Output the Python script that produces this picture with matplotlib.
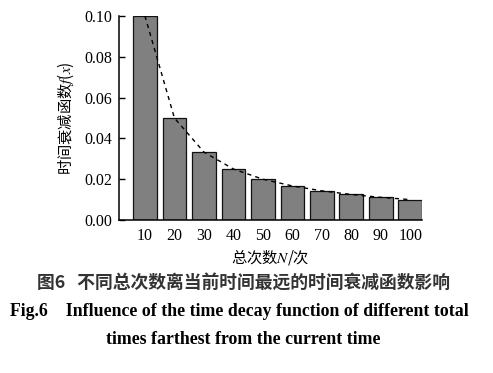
import matplotlib
matplotlib.use("Agg")
import matplotlib.pyplot as plt

# data
totals = [10, 20, 30, 40, 50, 60, 70, 80, 90, 100]
decay = [0.100, 0.050, 0.0333, 0.025, 0.020, 0.0167, 0.0143, 0.0125, 0.0111, 0.010]
yticks = [0.00, 0.02, 0.04, 0.06, 0.08, 0.10]

SERIF = ["Liberation Serif", "Noto Sans CJK SC"]
CJK = ["Noto Sans CJK SC", "Liberation Serif"]

plt.rcParams.update({
    "font.family": SERIF,
    "mathtext.fontset": "stix",
    "font.size": 10,
})

fig = plt.figure(figsize=(4.93, 3.73), dpi=100)
ax = fig.add_axes([0.2414, 0.4102, 0.6146, 0.5469])

ax.bar(totals, decay, width=8, color="#808080", edgecolor="#111111", linewidth=0.9)
ax.plot(totals, decay, color="black", linestyle=(0, (3, 3)), linewidth=1.0)

ax.set_xlim(1.2, 104)
ax.set_ylim(0, 0.10)
ax.set_xticks(totals)
ax.set_xticklabels([str(t) for t in totals])
ax.set_yticks(yticks)
ax.set_yticklabels([f"{v:.2f}" for v in yticks])
ax.tick_params(axis="y", direction="in", length=4, width=1, labelsize=11.5, pad=5)
ax.tick_params(axis="x", length=0, labelsize=11.5, pad=6)

for side in ("top", "right"):
    ax.spines[side].set_visible(False)
for side in ("left", "bottom"):
    ax.spines[side].set_linewidth(1.1)

ax.set_ylabel("时间衰减函数$f$($x$)", family=CJK, fontsize=11, labelpad=6)
ax.set_xlabel("总次数$N$/次", family=CJK, fontsize=11, labelpad=2)

fig.text(0.493, 1 - 283 / 373, "图6   不同总次数离当前时间最远的时间衰减函数影响",
         family=CJK, fontsize=12.8, fontweight="bold", ha="center", va="center",
         color="#333333")
fig.text(0.486, 1 - 312 / 373, "Fig.6    Influence of the time decay function of different total",
         family=SERIF, fontsize=12.8, fontweight="bold", ha="center", va="center")
fig.text(0.493, 1 - 340 / 373, "times farthest from the current time",
         family=SERIF, fontsize=12.8, fontweight="bold", ha="center", va="center")

fig.savefig("out.png", dpi=100, facecolor="white")
